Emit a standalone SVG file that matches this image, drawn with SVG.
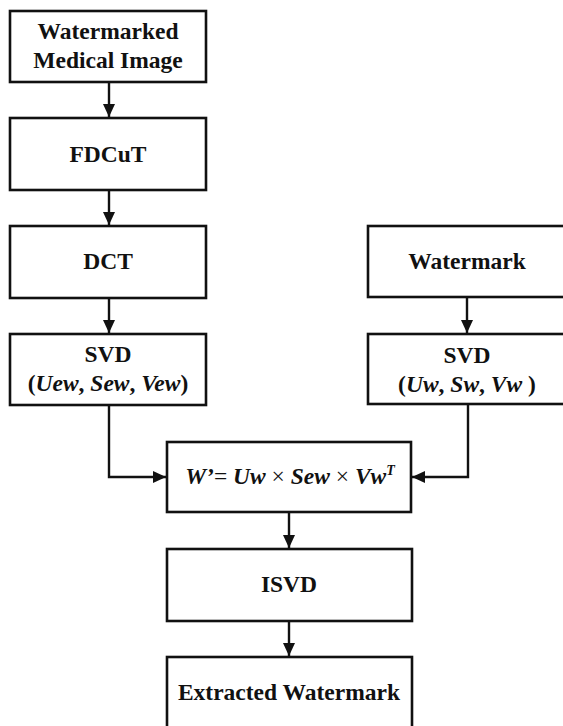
<svg xmlns="http://www.w3.org/2000/svg" width="563" height="726" viewBox="0 0 563 726">
<defs>
<marker id="ah" markerUnits="userSpaceOnUse" markerWidth="14" markerHeight="14" viewBox="0 0 14 14" refX="13" refY="7" orient="auto">
<path d="M0,1 L13,7 L0,13 Z" fill="#111"/>
</marker>
<style>
.box{fill:#fff;stroke:#111;stroke-width:2.6}
.t{font-family:"Liberation Serif","Times New Roman",serif;font-weight:bold;font-size:23.5px;fill:#111;text-anchor:middle}
.i{font-style:italic}
.n{font-weight:normal}
.c{fill:none;stroke:#111;stroke-width:2.4}
</style>
</defs>
<rect width="563" height="726" fill="#fff"/>
<g id="n-input">
<rect class="box" x="10" y="11" width="196" height="71"/>
<text class="t" x="108" y="39">Watermarked</text>
<text class="t" x="108" y="68">Medical Image</text>
</g>
<g id="n-fdcut">
<rect class="box" x="10" y="118" width="196" height="72"/>
<text class="t" x="108" y="162">FDCuT</text>
</g>
<g id="n-dct">
<rect class="box" x="10" y="226" width="196" height="72"/>
<text class="t" x="108" y="269">DCT</text>
</g>
<g id="n-svd1">
<rect class="box" x="10" y="334" width="196" height="71"/>
<text class="t" x="108" y="362">SVD</text>
<text class="t" x="108" y="391">(<tspan class="i">Uew</tspan>, <tspan class="i">Sew</tspan>, <tspan class="i">Vew</tspan>)</text>
</g>
<g id="n-watermark">
<rect class="box" x="368" y="226" width="200" height="71"/>
<text class="t" x="467" y="269">Watermark</text>
</g>
<g id="n-svd2">
<rect class="box" x="368" y="334" width="200" height="70"/>
<text class="t" x="467" y="363">SVD</text>
<text class="t" x="467" y="392">(<tspan class="i">Uw</tspan>, <tspan class="i">Sw</tspan>, <tspan class="i">Vw</tspan> )</text>
</g>
<g id="n-formula">
<rect class="box" x="167" y="442" width="244" height="70"/>
<text class="t" x="290" y="484"><tspan class="i">W’</tspan><tspan class="n">= </tspan><tspan class="i">Uw</tspan><tspan class="n"> × </tspan><tspan class="i">Sew</tspan><tspan class="n"> × </tspan><tspan class="i">Vw</tspan><tspan class="i" font-size="14" dy="-9">T</tspan></text>
</g>
<g id="n-isvd">
<rect class="box" x="167" y="549" width="245" height="72"/>
<text class="t" x="289" y="592">ISVD</text>
</g>
<g id="n-extracted">
<rect class="box" x="167" y="657" width="245" height="75"/>
<text class="t" x="289" y="700">Extracted Watermark</text>
</g>
<g id="connectors">
<line class="c" x1="109" y1="82" x2="109" y2="117" marker-end="url(#ah)"/>
<line class="c" x1="109" y1="190" x2="109" y2="225" marker-end="url(#ah)"/>
<line class="c" x1="109" y1="298" x2="109" y2="333" marker-end="url(#ah)"/>
<line class="c" x1="467" y1="297" x2="467" y2="333" marker-end="url(#ah)"/>
<polyline class="c" points="109,405 109,477 166,477" marker-end="url(#ah)"/>
<polyline class="c" points="468,404 468,477 412,477" marker-end="url(#ah)"/>
<line class="c" x1="289" y1="512" x2="289" y2="548" marker-end="url(#ah)"/>
<line class="c" x1="289" y1="621" x2="289" y2="656" marker-end="url(#ah)"/>
</g>
</svg>
